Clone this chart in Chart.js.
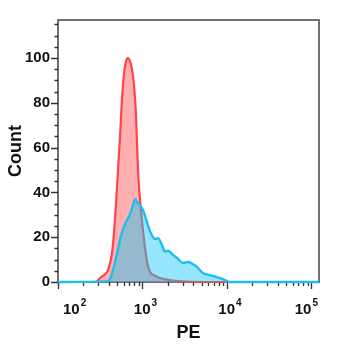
<!DOCTYPE html>
<html>
<head>
<meta charset="utf-8">
<script src="https://cdn.jsdelivr.net/npm/chart.js@4/dist/chart.umd.min.js"></script>
<style>
  body { margin: 0; background: #fff; }
  #wrap { width: 350px; height: 350px; }
</style>
</head>
<body>
<div id="wrap"><canvas id="mycanvas" width="350" height="350"></canvas></div>
<script>
// histogram values (PE intensity, count)
var redPE    = [100, 280, 314, 360, 391, 435, 460, 486, 513, 542, 572, 604, 637, 673, 712, 751, 793, 837, 861, 885, 934, 987, 1042, 1101, 1162, 1227, 1400, 1611, 2115, 3000, 5000, 122700];
var redCount = [0,   0,   1.8, 3.5, 5.3, 12.9, 22, 35,  50,  65,  82,  93,  98.5, 100, 98.5, 95, 88,  75,  62,  50,  37,  27,  19,   12,   7,    4.5,  2.8,  1.8,  0.9,  0.3,  0,    0];

var bluePE    = [100, 380, 412, 448, 486, 542, 588, 638, 712, 773, 815, 885, 1014, 1131, 1227, 1406, 1525, 1701, 1846, 2003, 2235, 2561, 3013, 3468, 3846, 4412, 5178, 6292, 7614, 8930, 10000, 10800, 122700];
var blueCount = [0,   0.3, 1.3, 5.3, 10.7, 18.7, 23.6, 26.7, 30.3, 34.3, 37, 35.2, 32.1, 26.7, 22.7, 19.2, 19.6, 16.5, 13.6, 14.0, 12.5, 10.7, 8.5,  8.9,  8.2,  6.7,  4.0,  3.1,  2.2,  1.3,  0.4,   0,     0];

var xMajor = [100, 1000, 10000, 100000];
var xExp = ['2', '3', '4', '5'];
var yTicks = [0, 20, 40, 60, 80, 100];

var FONT = "'Liberation Sans', Arial, Helvetica, sans-serif";

function toPoints(xs, ys) {
  var pts = [];
  for (var i in xs) pts.push({x: xs[i], y: ys[i]});
  return pts;
}

// box, tick marks and exponent labels
var framePlugin = {
  id: 'frame',
  beforeDatasetsDraw: function(chart) {
    var ctx = chart.ctx, a = chart.chartArea;
    var x = chart.scales.x, y = chart.scales.y;
    ctx.save();
    ctx.strokeStyle = '#707070';
    ctx.lineWidth = 2;
    ctx.strokeRect(a.left, a.top, a.right - a.left, a.bottom - a.top);

    ctx.strokeStyle = '#333';
    ctx.lineWidth = 1.3;
    ctx.beginPath();
    for (var v = 0; v <= y.max; v += 5) {
      var py = Math.round(y.getPixelForValue(v)) + 0.5;
      var len = (v % 20 === 0 && v <= 100) ? 7 : 3.5;
      ctx.moveTo(a.left, py);
      ctx.lineTo(a.left - len, py);
    }
    for (var d = 2; d <= 5; d++) {
      for (var k = 1; k <= 9; k++) {
        var val = k * Math.pow(10, d);
        if (val < x.min || val > x.max) continue;
        var px = Math.round(x.getPixelForValue(val)) + 0.5;
        ctx.moveTo(px, a.bottom);
        ctx.lineTo(px, a.bottom + (k === 1 ? 7 : 4));
      }
    }
    ctx.stroke();

    ctx.fillStyle = '#111';
    ctx.textBaseline = 'alphabetic';
    ctx.textAlign = 'left';
    for (var i = 0; i < xMajor.length; i++) {
      var tx = x.getPixelForValue(xMajor[i]);
      ctx.font = 'bold 15px ' + FONT;
      var w1 = ctx.measureText('10').width;
      ctx.font = 'bold 10px ' + FONT;
      var w2 = ctx.measureText(xExp[i]).width;
      var w = w1 + w2 + 1;
      var left = tx + 3 - w / 2;
      if (left < a.left + 5) left = a.left + 5;
      if (left + w > a.right - 1) left = a.right - 1 - w;
      ctx.font = 'bold 15px ' + FONT;
      ctx.fillText('10', left, 314);
      ctx.font = 'bold 10px ' + FONT;
      ctx.fillText(xExp[i], left + w1 + 1, 306);
    }
    ctx.restore();
  }
};

var chartdata = {
  datasets: [
    {
      label: 'PE stained',
      data: toPoints(bluePE, blueCount),
      borderColor: '#1cbef0',
      backgroundColor: 'rgba(20, 200, 245, 0.45)',
      borderWidth: 2.4,
      fill: 'origin',
      pointRadius: 0,
      cubicInterpolationMode: 'monotone',
      clip: 3
    },
    {
      label: 'isotype control',
      data: toPoints(redPE, redCount),
      borderColor: 'rgba(255, 60, 70, 0.95)',
      backgroundColor: 'rgba(255, 95, 95, 0.5)',
      borderWidth: 2.2,
      fill: 'origin',
      pointRadius: 0,
      cubicInterpolationMode: 'monotone',
      clip: 3
    }
  ]
};

var ctx = document.getElementById('mycanvas');

var myChart = new Chart(ctx, {
  type: 'line',
  data: chartdata,
  plugins: [framePlugin],
  options: {
    responsive: false,
    animation: false,
    layout: { padding: { left: 0, right: 31, top: 20, bottom: 0 } },
    plugins: { legend: { display: false }, tooltip: { enabled: false } },
    scales: {
      x: {
        type: 'logarithmic',
        min: 100,
        max: 122700,
        grid: { display: false, drawTicks: false },
        border: { display: false },
        ticks: { display: false },
        afterBuildTicks: function(scale) {
          scale.ticks = xMajor.map(function(v) { return {value: v}; });
        },
        afterFit: function(scale) { scale.height = 68; },
        title: {
          display: true,
          text: 'PE',
          color: '#111',
          font: { family: FONT, size: 18, weight: 'bold' },
          padding: { top: 0, bottom: 6 }
        }
      },
      y: {
        min: 0,
        max: 117,
        grid: { display: false, drawTicks: false },
        border: { display: false },
        afterBuildTicks: function(scale) {
          scale.ticks = yTicks.map(function(v) { return {value: v}; });
        },
        afterFit: function(scale) { scale.width = 58; },
        ticks: {
          padding: 8,
          color: '#111',
          font: { family: FONT, size: 15, weight: 'bold' }
        },
        title: {
          display: true,
          text: 'Count',
          color: '#111',
          font: { family: FONT, size: 18, weight: 'bold' },
          padding: { top: 5, bottom: 0 }
        }
      }
    }
  }
});
</script>
</body>
</html>
